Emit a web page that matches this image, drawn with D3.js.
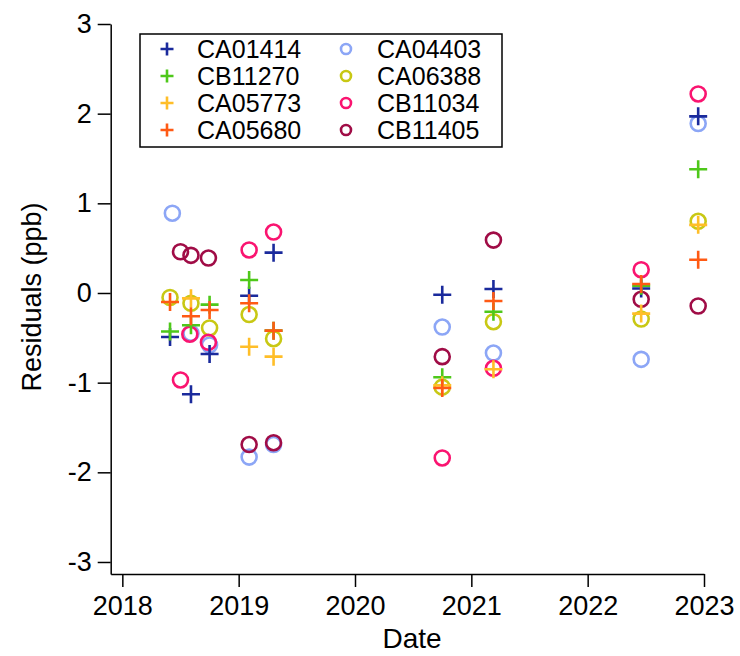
<!DOCTYPE html>
<html>
<head>
<meta charset="utf-8">
<script src="https://cdn.jsdelivr.net/npm/d3@7"></script>
<style>
  body { margin: 0; background: #fff; }
  text { font-family: "Liberation Sans", Arial, Helvetica, sans-serif; }
</style>
</head>
<body>
<script>
// Residuals per site: [decimal year, residual (ppb)]
const CA01414 = [[2018.41, -0.49], [2018.59, -1.13], [2018.75, -0.68], [2019.09, -0.03], [2019.30, 0.45],
                 [2020.75, -0.02], [2021.19, 0.045], [2022.46, 0.05], [2022.95, 1.97]];
const CB11270 = [[2018.41, -0.43], [2018.59, -0.36], [2018.75, -0.13], [2019.09, 0.145], [2019.30, -0.42],
                 [2020.75, -0.94], [2021.19, -0.21], [2022.46, 0.08], [2022.95, 1.38]];
const CA05773 = [[2018.59, -0.06], [2019.09, -0.60], [2019.30, -0.71], [2020.75, -1.03],
                 [2021.19, -0.85], [2022.46, -0.23], [2022.95, 0.76]];
const CA05680 = [[2018.41, -0.10], [2018.59, -0.26], [2018.75, -0.19], [2019.09, -0.115], [2019.30, -0.42],
                 [2020.75, -1.06], [2021.19, -0.09], [2022.46, 0.10], [2022.95, 0.37]];
const CA04403 = [[2018.43, 0.89], [2018.59, -0.45], [2018.75, -0.58], [2019.09, -1.83], [2019.30, -1.69],
                 [2020.75, -0.38], [2021.19, -0.67], [2022.46, -0.74], [2022.95, 1.89]];
const CA06388 = [[2018.41, -0.05], [2018.59, -0.115], [2018.75, -0.39], [2019.09, -0.24], [2019.30, -0.51],
                 [2020.75, -1.05], [2021.19, -0.32], [2022.46, -0.29], [2022.95, 0.80]];
const CB11034 = [[2018.50, -0.97], [2018.58, -0.46], [2018.74, -0.55], [2019.09, 0.48], [2019.30, 0.68],
                 [2020.75, -1.84], [2021.19, -0.84], [2022.46, 0.26], [2022.95, 2.22]];
const CB11405 = [[2018.50, 0.46], [2018.59, 0.42], [2018.74, 0.39], [2019.09, -1.69], [2019.30, -1.67],
                 [2020.75, -0.71], [2021.19, 0.59], [2022.46, -0.07], [2022.95, -0.145]];

const crossSites = ["CA01414", "CB11270", "CA05773", "CA05680"];
const circleSites = ["CA04403", "CA06388", "CB11034", "CB11405"];
const siteData = { CA01414, CB11270, CA05773, CA05680, CA04403, CA06388, CB11034, CB11405 };
const siteColors = {
  CA01414: "#1a2a9c", CB11270: "#4ec81a", CA05773: "#ffbe28", CA05680: "#ff5a14",
  CA04403: "#8ca6f6", CA06388: "#c8c814", CB11034: "#fa1470", CB11405: "#a00c46"
};
const yearTicks = [2018, 2019, 2020, 2021, 2022, 2023];
const residualTicks = [-3, -2, -1, 0, 1, 2, 3];

const width = 740, height = 656;
const svg = d3.select("body").append("svg")
  .attr("width", width)
  .attr("height", height);

const x = d3.scaleLinear().domain([2017.9, 2023]).range([110.7, 704]);
const y = d3.scaleLinear().domain([-3.134, 3]).range([574, 24]);

// axes
const yAxis = svg.append("g")
  .attr("transform", `translate(${x.range()[0]},0)`)
  .call(d3.axisLeft(y).tickValues(residualTicks).tickFormat(d => String(d))
    .tickSize(13).tickSizeOuter(0).tickPadding(6));
const xAxis = svg.append("g")
  .attr("transform", `translate(0,${y.range()[0]})`)
  .call(d3.axisBottom(x).tickValues(yearTicks).tickFormat(d => String(d))
    .tickSize(13).tickSizeOuter(0).tickPadding(9));

[yAxis, xAxis].forEach(g => {
  g.selectAll("path, line").attr("stroke", "#000").attr("stroke-width", 1.5);
  g.selectAll("text").style("font-size", "27px").attr("fill", "#000");
});

svg.append("text")
  .attr("transform", `translate(41,297) rotate(-90)`)
  .attr("text-anchor", "middle")
  .style("font-size", "27px")
  .text("Residuals (ppb)");

svg.append("text")
  .attr("x", 412)
  .attr("y", 648)
  .attr("text-anchor", "middle")
  .style("font-size", "28px")
  .text("Date");

function crossPath(r) {
  return `M${-r},0H${r}M0,${-r}V${r}`;
}

// circles first, crosses on top
circleSites.forEach(name => {
  svg.append("g").selectAll("circle")
    .data(siteData[name])
    .join("circle")
    .attr("cx", d => x(d[0]))
    .attr("cy", d => y(d[1]))
    .attr("r", 7.5)
    .attr("fill", "none")
    .attr("stroke", siteColors[name])
    .attr("stroke-width", 2.6);
});
crossSites.forEach(name => {
  svg.append("g").selectAll("path")
    .data(siteData[name])
    .join("path")
    .attr("transform", d => `translate(${x(d[0])},${y(d[1])})`)
    .attr("d", crossPath(9))
    .attr("fill", "none")
    .attr("stroke", siteColors[name])
    .attr("stroke-width", 2.6);
});

// legend
const legend = svg.append("g");
legend.append("rect")
  .attr("x", 140).attr("y", 34)
  .attr("width", 362).attr("height", 113)
  .attr("fill", "#fff")
  .attr("stroke", "#000")
  .attr("stroke-width", 1.5);

const rowY = i => 49 + i * 27;
crossSites.forEach((name, i) => {
  legend.append("path")
    .attr("transform", `translate(167,${rowY(i)})`)
    .attr("d", crossPath(6.5))
    .attr("stroke", siteColors[name])
    .attr("stroke-width", 2.6);
  legend.append("text")
    .attr("x", 197).attr("y", rowY(i)).attr("dy", "0.36em")
    .style("font-size", "25px")
    .text(name);
});
circleSites.forEach((name, i) => {
  legend.append("circle")
    .attr("cx", 346).attr("cy", rowY(i))
    .attr("r", 5)
    .attr("fill", "none")
    .attr("stroke", siteColors[name])
    .attr("stroke-width", 2.6);
  legend.append("text")
    .attr("x", 377).attr("y", rowY(i)).attr("dy", "0.36em")
    .style("font-size", "25px")
    .text(name);
});
</script>
</body>
</html>
